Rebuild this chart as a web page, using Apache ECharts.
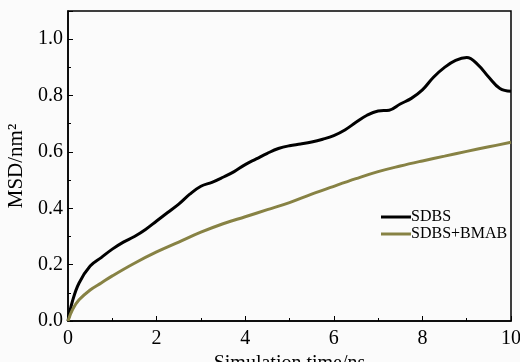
<!DOCTYPE html>
<html>
<head>
<meta charset="utf-8">
<script src="https://cdn.jsdelivr.net/npm/echarts@6/dist/echarts.min.js"></script>
<style>
  html, body { margin: 0; padding: 0; background: #fbfbfb; }
  #chart { width: 520px; height: 362px; }
</style>
</head>
<body>
<div id="chart"></div>
<script>
// 时间 (ns)
var timeSDBS = [0, 0.1, 0.25, 0.5, 0.75, 1, 1.25, 1.5, 1.75, 2, 2.25, 2.5, 2.75, 3, 3.25, 3.5, 3.75, 4, 4.25, 4.5, 4.75, 5, 5.25, 5.5, 5.75, 6, 6.25, 6.5, 6.75, 7, 7.25, 7.5, 7.75, 8, 8.25, 8.5, 8.75, 9, 9.25, 9.5, 9.75, 10];
var msdSDBS = [0, 0.07, 0.135, 0.195, 0.225, 0.255, 0.28, 0.3, 0.325, 0.355, 0.385, 0.415, 0.45, 0.478, 0.492, 0.51, 0.53, 0.555, 0.575, 0.595, 0.612, 0.622, 0.628, 0.635, 0.645, 0.658, 0.678, 0.705, 0.73, 0.745, 0.748, 0.77, 0.79, 0.82, 0.865, 0.9, 0.925, 0.935, 0.91, 0.865, 0.825, 0.815];
var timeBMAB = [0, 0.1, 0.25, 0.5, 0.75, 1, 1.5, 2, 2.5, 3, 3.5, 4, 4.5, 5, 5.5, 6, 6.5, 7, 7.5, 8, 8.5, 9, 9.5, 10];
var msdBMAB = [0, 0.04, 0.075, 0.11, 0.135, 0.16, 0.205, 0.245, 0.28, 0.315, 0.345, 0.37, 0.395, 0.42, 0.45, 0.478, 0.505, 0.53, 0.55, 0.568, 0.585, 0.602, 0.618, 0.634];
var seriesNames = ['SDBS', 'SDBS+BMAB'];

function pairs(xs, ys) {
    var out = [];
    for (var i = 0; i < xs.length; i++) {
        out.push([xs[i], ys[i]]);
    }
    return out;
}

var font = 'Liberation Serif';
var myChart = echarts.init(document.getElementById('chart'));
var option = {
    backgroundColor: '#fbfbfb',
    animation: false,
    grid: {
        left: 68, right: 9, top: 11, bottom: 41,
        outerBoundsMode: 'none',
        containLabel: false,
        show: true, borderColor: '#000', borderWidth: 1.5, backgroundColor: 'transparent'
    },
    legend: {
        orient: 'vertical',
        left: 376,
        top: 204,
        itemGap: 1,
        itemWidth: 30,
        itemHeight: 3,
        icon: 'rect',
        textStyle: { fontFamily: font, fontSize: 16, color: '#000', padding: [0, 0, 0, -5] },
        data: seriesNames
    },
    xAxis: {
        type: 'value',
        min: 0, max: 10, interval: 2,
        name: 'Simulation time/ns',
        nameLocation: 'middle',
        nameGap: 33,
        nameTextStyle: { fontFamily: font, fontSize: 20, color: '#000' },
        axisLine: { lineStyle: { color: '#000', width: 1.5 } },
        axisTick: { inside: true, length: 5, lineStyle: { color: '#000' } },
        minorTick: { show: true, splitNumber: 2, length: 3, lineStyle: { color: '#000' } },
        splitLine: { show: false },
        axisLabel: { fontFamily: font, fontSize: 20, color: '#000', margin: 8 }
    },
    yAxis: {
        type: 'value',
        min: 0, max: 1.1, interval: 0.2,
        name: 'MSD/nm²',
        nameLocation: 'middle',
        nameGap: 40,
        nameTextStyle: { fontFamily: font, fontSize: 21, color: '#000' },
        axisLine: { lineStyle: { color: '#000', width: 1.5 } },
        axisTick: { inside: true, length: 5, lineStyle: { color: '#000' } },
        minorTick: { show: true, splitNumber: 2, length: 3, lineStyle: { color: '#000' } },
        splitLine: { show: false },
        axisLabel: {
            fontFamily: font, fontSize: 20, color: '#000', margin: 5,
            formatter: function (v) {
                if (v > 1.05) return '';
                return v.toFixed(1);
            }
        }
    },
    series: [
        {
            name: seriesNames[0],
            type: 'line',
            smooth: 0.4,
            showSymbol: false,
            color: '#000000',
            lineStyle: { width: 3 },
            data: pairs(timeSDBS, msdSDBS)
        },
        {
            name: seriesNames[1],
            type: 'line',
            smooth: 0.4,
            showSymbol: false,
            color: '#878244',
            lineStyle: { width: 3 },
            data: pairs(timeBMAB, msdBMAB)
        }
    ]
};
myChart.setOption(option);
</script>
</body>
</html>
